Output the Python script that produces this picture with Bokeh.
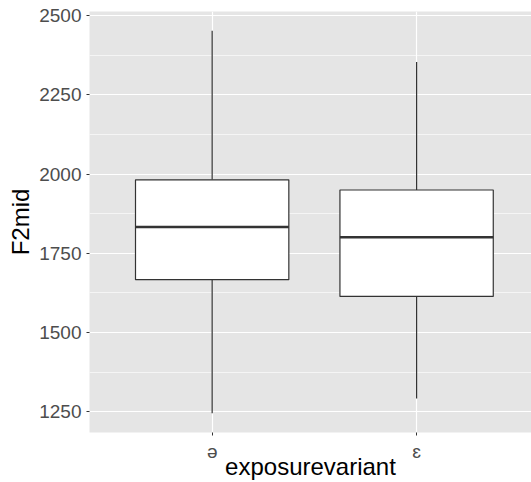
from bokeh.plotting import figure
from bokeh.models import Range1d, FixedTicker, SingleIntervalTicker, ColumnDataSource
from bokeh.embed import file_html
from bokeh.resources import INLINE

# Box-plot summary of F2 at vowel midpoint, per exposure variant
categories = ["ə", "ɛ"]
lower_whisker = [1245, 1292]
q1 = [1667, 1614]
median = [1833, 1801]
q3 = [1982, 1950]
upper_whisker = [2453, 2354]

positions = [i + 1 for i in range(len(categories))]
box_width = 0.75
half = box_width / 2

src = ColumnDataSource(dict(
    x=positions,
    x_left=[x - half for x in positions],
    x_right=[x + half for x in positions],
    lower=lower_whisker, q1=q1, med=median, q3=q3, upper=upper_whisker,
))

# ggplot-style 5% expansion of the data range
lo, hi = min(lower_whisker), max(upper_whisker)
pad = 0.05 * (hi - lo)

p = figure(
    width=531, height=482,
    x_range=Range1d(0.4, 2.562),
    y_range=Range1d(lo - pad, hi + pad),
    output_backend="svg", toolbar_location=None,
    min_border_left=89, min_border_top=11, min_border_right=0, min_border_bottom=50,
    background_fill_color="#E5E5E5", border_fill_color="white",
)
p.outline_line_color = None

FONT = "Liberation Sans"

# axes
p.xaxis.ticker = FixedTicker(ticks=positions)
p.xaxis.major_label_overrides = {pos: c for pos, c in zip(positions, categories)}
p.yaxis.ticker = SingleIntervalTicker(interval=250, num_minor_ticks=2)
p.xaxis.axis_label = "exposurevariant"
p.yaxis.axis_label = "F2mid"
for ax in (p.xaxis[0], p.yaxis[0]):
    ax.axis_line_color = None
    ax.major_tick_line_color = "#333333"
    ax.major_tick_line_width = 1
    ax.major_tick_in = 0
    ax.major_tick_out = 3
    ax.minor_tick_line_color = None
    ax.major_label_text_font = FONT
    ax.major_label_text_font_size = "19px"
    ax.major_label_text_color = "#4D4D4D"
    ax.major_label_text_line_height = 1.0
    ax.axis_label_text_font = FONT
    ax.axis_label_text_font_size = "24px"
    ax.axis_label_text_font_style = "normal"
    ax.axis_label_text_color = "black"
    ax.axis_label_text_line_height = 1.0
p.xaxis.major_label_standoff = 5
p.xaxis.axis_label_standoff = -12
p.yaxis.major_label_standoff = 4
p.yaxis.axis_label_standoff = 2

# grid
p.xgrid.ticker = FixedTicker(ticks=positions)
p.xgrid.grid_line_color = "white"
p.xgrid.grid_line_width = 1.2
p.ygrid.grid_line_color = "white"
p.ygrid.grid_line_width = 1.2
p.ygrid.minor_grid_line_color = "white"
p.ygrid.minor_grid_line_width = 0.6

# whiskers
p.segment(x0="x", y0="q3", x1="x", y1="upper", source=src, line_color="#333333", line_width=1.2)
p.segment(x0="x", y0="lower", x1="x", y1="q1", source=src, line_color="#333333", line_width=1.2)
# boxes
p.vbar(x="x", width=box_width, bottom="q1", top="q3", source=src,
       fill_color="white", line_color="#333333", line_width=1.2)
# medians
p.segment(x0="x_left", y0="med", x1="x_right", y1="med", source=src,
          line_color="#333333", line_width=2.4)

open("out.html", "w").write(file_html(p, INLINE))
